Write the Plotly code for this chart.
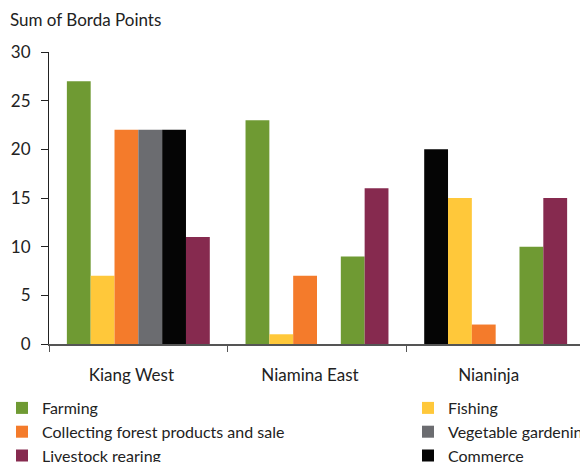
import plotly.graph_objects as go

categories = ["Kiang West", "Niamina East", "Nianinja"]

# Values per bar position (slot) within each region; None = no bar
farming_slot1 = [27, 23, None]
commerce_slot1 = [None, None, 20]
fishing = [7, 1, 15]
collecting = [22, 7, 2]
vegetable = [22, None, None]
commerce_slot5 = [22, None, None]
farming_slot5 = [None, 9, 10]
livestock = [11, 16, 15]

colors = {
    "Farming": "#6F9A33",
    "Fishing": "#FFC83A",
    "Collecting forest products and sale": "#F47B2B",
    "Vegetable gardening": "#6B6C70",
    "Commerce": "#050505",
    "Livestock rearing": "#862A4F",
}

# (name, values, slot, legend, show in legend, rank)
traces = [
    ("Farming", farming_slot1, "1", "legend", True, 1),
    ("Commerce", commerce_slot1, "1", "legend2", False, 3),
    ("Fishing", fishing, "2", "legend2", True, 1),
    ("Collecting forest products and sale", collecting, "3", "legend", True, 2),
    ("Vegetable gardening", vegetable, "4", "legend2", True, 2),
    ("Commerce", commerce_slot5, "5", "legend2", True, 3),
    ("Farming", farming_slot5, "5", "legend", False, 1),
    ("Livestock rearing", livestock, "6", "legend", True, 3),
]

fig = go.Figure()
for name, vals, slot, leg, show, rank in traces:
    fig.add_trace(go.Bar(
        x=categories, y=vals, name=name, offsetgroup=slot,
        marker=dict(color=colors[name], line=dict(width=0)),
        legend=leg, showlegend=show, legendgroup=name, legendrank=rank,
    ))

# page body adds an 8px offset; plot area in figure coords: x 41..577, y 44..336
L, R, T, B = 41, 577, 44, 336
W, H = R - L, B - T
font = "Lato, 'Open Sans', sans-serif"
legfont = dict(size=16, color="#222")
fig.update_layout(
    width=588, height=462,
    margin=dict(l=L, r=588 - R, t=T, b=462 - B, autoexpand=False),
    plot_bgcolor="white", paper_bgcolor="white",
    barmode="group", bargap=0.2, bargroupgap=0,
    font=dict(family=font, size=17, color="#222"),
    title=dict(text="Sum of Borda Points", x=2/588, xanchor="left", xref="container",
               y=1-12/462, yanchor="middle", yref="container",
               font=dict(family=font, size=17, color="#222")),
    legend=dict(x=(-6-L)/W, y=(B-383)/H, xanchor="left", yanchor="top",
                font=legfont, tracegroupgap=0, itemwidth=30, bgcolor="rgba(0,0,0,0)"),
    legend2=dict(x=(400-L)/W, y=(B-383)/H, xanchor="left", yanchor="top",
                 font=legfont, tracegroupgap=0, itemwidth=30, bgcolor="rgba(0,0,0,0)"),
)
fig.update_yaxes(range=[0, 30], tickvals=[0, 5, 10, 15, 20, 25, 30], showgrid=False,
                 zeroline=False, showline=True, linecolor="#222", linewidth=1,
                 ticks="outside", ticklen=7, tickcolor="#222", ticklabelstandoff=7)
fig.update_xaxes(showgrid=False, showline=True, linecolor="#555", linewidth=1.5,
                 ticks="outside", ticklen=6, tickcolor="#555", tickson="boundaries",
                 ticklabelstandoff=15, ticklabelshift=-7, tickangle=0)

fig.write_html("out.html")
